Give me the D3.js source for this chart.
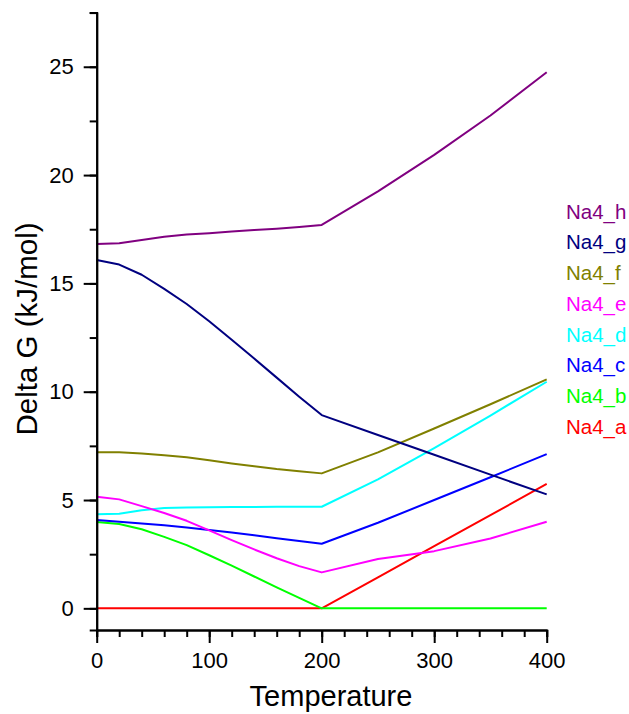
<!DOCTYPE html>
<html>
<head>
<meta charset="utf-8">
<script src="https://cdn.jsdelivr.net/npm/d3@7"></script>
<style>
  body { margin: 0; background: #fff; }
  text { font-family: "Liberation Sans", Arial, sans-serif; }
</style>
</head>
<body>
<svg id="chart_svg" width="629" height="714"></svg>
<script>
var temps = [0, 20, 40, 60, 80, 100, 120, 140, 160, 180, 200, 250, 300, 350, 400];

var na4_a = [0, 0, 0, 0, 0, 0, 0, 0, 0, 0, 0, 1.43, 2.87, 4.3, 5.74];
var na4_b = [3.98, 3.89, 3.65, 3.3, 2.92, 2.45, 1.97, 1.47, 0.97, 0.48, 0, 0, 0, 0, 0];
var na4_c = [4.08, 4.0, 3.92, 3.83, 3.73, 3.62, 3.5, 3.37, 3.24, 3.11, 2.98, 3.95, 5.0, 6.05, 7.12];
var na4_d = [4.34, 4.37, 4.53, 4.63, 4.66, 4.67, 4.68, 4.68, 4.69, 4.69, 4.69, 5.95, 7.4, 8.9, 10.46];
var na4_e = [5.15, 5.03, 4.72, 4.4, 4.04, 3.6, 3.15, 2.72, 2.31, 1.95, 1.66, 2.28, 2.64, 3.22, 4.0];
var na4_f = [7.2, 7.2, 7.15, 7.07, 6.97, 6.84, 6.69, 6.56, 6.43, 6.33, 6.23, 7.2, 8.3, 9.42, 10.57];
var na4_g = [16.08, 15.87, 15.4, 14.75, 14.05, 13.25, 12.4, 11.53, 10.65, 9.77, 8.92, 8.0, 7.09, 6.17, 5.26];
var na4_h = [16.82, 16.85, 17.0, 17.15, 17.26, 17.32, 17.39, 17.46, 17.52, 17.6, 17.7, 19.25, 20.93, 22.75, 24.75];

var seriesNames = ["Na4_a", "Na4_b", "Na4_c", "Na4_d", "Na4_e", "Na4_f", "Na4_g", "Na4_h"];
var seriesValues = [na4_a, na4_b, na4_c, na4_d, na4_e, na4_f, na4_g, na4_h];
var seriesColors = ["#ff0000", "#00ff00", "#0000ff", "#00ffff", "#ff00ff", "#808000", "#000080", "#800080"];

var xMajor = [0, 100, 200, 300, 400];
var yMajor = [0, 5, 10, 15, 20, 25];

// plot box (window.top is reserved, so no "top" var)
var plotLeft = 96.7, plotRight = 546.7, plotTop = 12.6, plotBottom = 630;

var svg = d3.select("#chart_svg");

var x = d3.scaleLinear().domain([0, 400]).range([plotLeft, plotRight]);
var y = d3.scaleLinear().domain([-1, 27.5]).range([plotBottom, plotTop]);

// lines
var line = d3.line()
    .x(function (d) { return x(d[0]); })
    .y(function (d) { return y(d[1]); });

seriesValues.forEach(function (vals, i) {
    svg.append("path")
        .datum(temps.map(function (t, j) { return [t, vals[j]]; }))
        .attr("fill", "none")
        .attr("stroke", seriesColors[i])
        .attr("stroke-width", 2)
        .attr("stroke-linejoin", "round")
        .attr("d", line);
});

// x axis
var xAxisMinor = d3.axisBottom(x).tickValues(d3.range(0, 401, 20)).tickSize(7).tickFormat("");
var xAxis = d3.axisBottom(x).tickValues(xMajor).tickSize(13).tickPadding(9).tickSizeOuter(0);

svg.append("g").attr("transform", "translate(0," + plotBottom + ")").call(xAxisMinor);
svg.append("g").attr("transform", "translate(0," + plotBottom + ")").call(xAxis);

// y axis
var yAxisMinor = d3.axisLeft(y).tickValues(d3.range(0, 27.6, 2.5)).tickSize(7).tickFormat("");
var yAxis = d3.axisLeft(y).tickValues(yMajor).tickSize(13).tickPadding(10).tickSizeOuter(0);

svg.append("g").attr("transform", "translate(" + plotLeft + ",0)").call(yAxisMinor);
svg.append("g").attr("transform", "translate(" + plotLeft + ",0)").call(yAxis);

svg.selectAll(".domain").attr("stroke", "#000").attr("stroke-width", 2);
svg.selectAll(".tick line").attr("stroke", "#000").attr("stroke-width", 2);
svg.selectAll(".tick text")
    .attr("fill", "#000")
    .attr("font-size", 22)
    .style("font-size", "22px")
    .style("font-family", "'Liberation Sans', Arial, sans-serif");

// axis titles
svg.append("text")
    .attr("x", 331)
    .attr("y", 706)
    .attr("text-anchor", "middle")
    .style("font-size", "29px")
    .text("Temperature");

svg.append("text")
    .attr("transform", "translate(37,329) rotate(-90)")
    .attr("text-anchor", "middle")
    .style("font-size", "29.5px")
    .text("Delta G (kJ/mol)");

// legend, top entry is the last series
var legend = svg.append("g");
for (var i = seriesNames.length - 1; i >= 0; i--) {
    var row = seriesNames.length - 1 - i;
    legend.append("text")
        .attr("x", 566)
        .attr("y", 211.7 + row * 30.7 + 7)
        .attr("fill", seriesColors[i])
        .style("font-size", "20.5px")
        .text(seriesNames[i]);
}
</script>
</body>
</html>
